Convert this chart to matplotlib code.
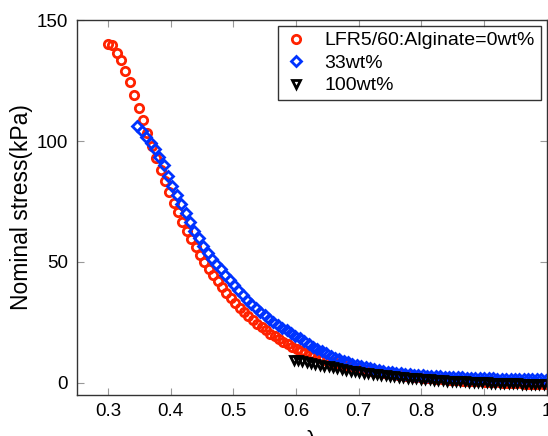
import matplotlib
matplotlib.use("Agg")
import matplotlib.pyplot as plt

plt.rcParams['font.family'] = ['Liberation Sans', 'DejaVu Sans']

# LFR5/60 : Alginate = 0 wt%
lam_0 = [0.300, 0.307, 0.314, 0.321, 0.328, 0.335, 0.342, 0.349, 0.356, 0.363,
         0.370, 0.377, 0.384, 0.391, 0.398, 0.405, 0.412, 0.419, 0.426, 0.433,
         0.440, 0.447, 0.454, 0.461, 0.468, 0.475, 0.482, 0.489, 0.496, 0.503,
         0.510, 0.517, 0.524, 0.531, 0.538, 0.545, 0.552, 0.559, 0.566, 0.573,
         0.580, 0.587, 0.594, 0.601, 0.608, 0.615, 0.622, 0.629, 0.636, 0.643,
         0.650, 0.657, 0.664, 0.671, 0.678, 0.685, 0.692, 0.699, 0.706, 0.713,
         0.720, 0.727, 0.734, 0.741, 0.748, 0.755, 0.762, 0.769, 0.776, 0.783,
         0.790, 0.797, 0.804, 0.811, 0.818, 0.825, 0.832, 0.839, 0.846, 0.853,
         0.860, 0.867, 0.874, 0.881, 0.888, 0.895, 0.902, 0.909, 0.916, 0.923,
         0.930, 0.937, 0.944, 0.951, 0.958, 0.965, 0.972, 0.979, 0.986, 0.993,
         1.000]
stress_0 = [140.0, 139.5, 136.5, 133.5, 129.0, 124.5, 119.0, 113.5, 108.5, 103.5,
            98.0, 93.0, 88.0, 83.5, 79.0, 74.5, 70.5, 66.5, 63.0, 59.5,
            56.0, 53.0, 50.0, 47.0, 44.5, 42.0, 39.5, 37.3, 35.0, 33.0,
            31.0, 29.3, 27.6, 26.0, 24.5, 23.0, 21.7, 20.4, 19.2, 18.1,
            17.0, 16.0, 15.0, 14.1, 13.3, 12.5, 11.8, 11.1, 10.4, 9.8,
            9.2, 8.7, 8.2, 7.7, 7.2, 6.8, 6.4, 6.0, 5.6, 5.3,
            5.0, 4.7, 4.4, 4.1, 3.9, 3.6, 3.4, 3.2, 3.0, 2.8,
            2.6, 2.4, 2.2, 2.1, 1.9, 1.8, 1.6, 1.5, 1.4, 1.2,
            1.1, 1.0, 0.9, 0.8, 0.7, 0.6, 0.5, 0.4, 0.3, 0.2,
            0.1, 0.0, -0.1, -0.2, -0.2, -0.3, -0.4, -0.4, -0.5, -0.6,
            -0.6]

# 33 wt%
lam_33 = [0.347, 0.354, 0.361, 0.368, 0.375, 0.382, 0.389, 0.396, 0.403, 0.410,
          0.417, 0.424, 0.431, 0.438, 0.445, 0.452, 0.459, 0.466, 0.473, 0.480,
          0.487, 0.494, 0.501, 0.508, 0.515, 0.522, 0.529, 0.536, 0.543, 0.550,
          0.557, 0.564, 0.571, 0.578, 0.585, 0.592, 0.599, 0.606, 0.613, 0.620,
          0.627, 0.634, 0.641, 0.648, 0.655, 0.662, 0.669, 0.676, 0.683, 0.690,
          0.697, 0.704, 0.711, 0.718, 0.725, 0.732, 0.739, 0.746, 0.753, 0.760,
          0.767, 0.774, 0.781, 0.788, 0.795, 0.802, 0.809, 0.816, 0.823, 0.830,
          0.837, 0.844, 0.851, 0.858, 0.865, 0.872, 0.879, 0.886, 0.893, 0.900,
          0.907, 0.914, 0.921, 0.928, 0.935, 0.942, 0.949, 0.956, 0.963, 0.970,
          0.977, 0.984, 0.991, 0.998]
stress_33 = [106.0, 104.3, 101.8, 99.0, 96.5, 93.5, 90.0, 85.5, 81.5, 77.8,
             74.0, 70.2, 66.5, 63.0, 59.8, 56.7, 53.8, 51.2, 49.0, 47.0,
             44.8, 42.5, 40.3, 38.3, 36.2, 34.3, 32.5, 30.8, 29.3, 28.0,
             26.6, 25.3, 24.0, 22.9, 21.8, 20.7, 19.6, 18.4, 17.2, 16.0,
             14.9, 13.9, 13.0, 12.2, 11.3, 10.5, 9.8, 9.1, 8.5, 7.9,
             7.4, 6.9, 6.4, 6.0, 5.6, 5.2, 4.9, 4.6, 4.4, 4.2,
             4.0, 3.8, 3.6, 3.4, 3.3, 3.1, 3.0, 2.9, 2.8, 2.7,
             2.6, 2.5, 2.4, 2.3, 2.25, 2.2, 2.1, 2.05, 2.0, 1.95,
             1.9, 1.85, 1.8, 1.75, 1.7, 1.7, 1.65, 1.6, 1.6, 1.55,
             1.5, 1.5, 1.45, 1.4]

# 100 wt%
lam_100 = [0.596, 0.603, 0.610, 0.617, 0.624, 0.631, 0.638, 0.645, 0.652, 0.659,
           0.666, 0.673, 0.680, 0.687, 0.694, 0.701, 0.708, 0.715, 0.722, 0.729,
           0.736, 0.743, 0.750, 0.757, 0.764, 0.771, 0.778, 0.785, 0.792, 0.799,
           0.806, 0.813, 0.820, 0.827, 0.834, 0.841, 0.848, 0.855, 0.862, 0.869,
           0.876, 0.883, 0.890, 0.897, 0.904, 0.911, 0.918, 0.925, 0.932, 0.939,
           0.946, 0.953, 0.960, 0.967, 0.974, 0.981, 0.988, 0.995]
stress_100 = [9.6, 9.4, 9.1, 8.8, 8.4, 8.0, 7.6, 7.2, 6.8, 6.4,
              6.1, 5.7, 5.4, 5.1, 4.8, 4.5, 4.3, 4.0, 3.8, 3.5,
              3.3, 3.1, 2.9, 2.7, 2.5, 2.3, 2.2, 2.0, 1.9, 1.7,
              1.6, 1.5, 1.3, 1.2, 1.1, 1.0, 0.9, 0.8, 0.7, 0.6,
              0.5, 0.4, 0.35, 0.3, 0.2, 0.15, 0.1, 0.0, -0.05, -0.1,
              -0.15, -0.2, -0.25, -0.3, -0.35, -0.4, -0.45, -0.5]

labels = ['LFR5/60:Alginate=0wt%', '33wt%', '100wt%']
xticks = [0.3, 0.4, 0.5, 0.6, 0.7, 0.8, 0.9, 1.0]
xticklabels = ['0.3', '0.4', '0.5', '0.6', '0.7', '0.8', '0.9', '1']
yticks = [0, 50, 100, 150]

fig = plt.figure(figsize=(5.48, 4.36), dpi=100)
ax = fig.add_axes([0.1396, 0.094, 0.8584, 0.860])

ax.plot(lam_0, stress_0, 'o', ms=6, mew=2.0, mfc='none', mec='#ff2200',
        label=labels[0])
ax.plot(lam_33, stress_33, 'D', ms=5.2, mew=2.0, mfc='none', mec='#0033ff',
        label=labels[1])
ax.plot(lam_100, stress_100, 'v', ms=6, mew=2.0, mfc='none', mec='black',
        label=labels[2])

ax.set_xlim(0.25, 1.0)
ax.set_ylim(-5, 150)
ax.set_xticks(xticks)
ax.set_xticklabels(xticklabels)
ax.set_yticks(yticks)
ax.tick_params(direction='in', length=5, width=0.8, color='#999999',
               labelsize=13.5, top=True, right=True, pad=6)
for s in ax.spines.values():
    s.set_color('#333333')
    s.set_linewidth(1.0)

ax.set_ylabel('Nominal stress(kPa)', fontsize=16.5, labelpad=3)
ax.set_xlabel('λ', fontsize=16, labelpad=7)

leg = ax.legend(loc='upper right', bbox_to_anchor=(0.987, 0.984),
                borderaxespad=0, fontsize=14, frameon=True, fancybox=False,
                edgecolor='black', labelspacing=0.25, handlelength=1.3,
                handletextpad=0.8, borderpad=0.3)
leg.get_frame().set_linewidth(1.0)

fig.savefig('out.png', dpi=100)
